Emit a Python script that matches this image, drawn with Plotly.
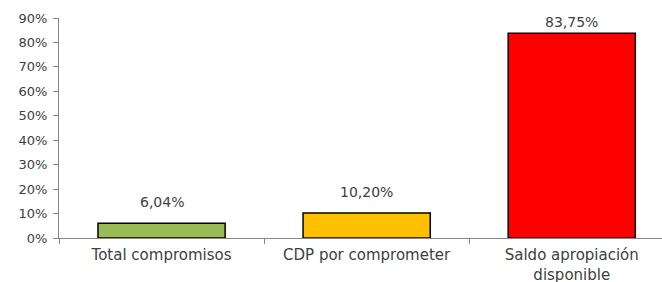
import plotly.graph_objects as go

categories = ["Total compromisos", "CDP por comprometer", "Saldo apropiación<br>disponible"]
values = [0.0604, 0.1020, 0.8375]
labels = ["6,04%", "10,20%", "83,75%"]
colors = ["#9BBB59", "#FFC000", "#FF0000"]
y_ticks = [0, 0.1, 0.2, 0.3, 0.4, 0.5, 0.6, 0.7, 0.8, 0.9]
y_tick_labels = ["0%", "10%", "20%", "30%", "40%", "50%", "60%", "70%", "80%", "90%"]

font_family = "DejaVu Sans"
label_gaps = [11, 11, 1]

fig = go.Figure(go.Bar(
    x=categories, y=values,
    marker=dict(color=colors, line=dict(color="#000000", width=1.5)),
    width=0.62,
))

for cat, val, lab, gap in zip(categories, values, labels, label_gaps):
    fig.add_annotation(
        x=cat, y=val, text=lab, showarrow=False,
        xanchor="center", yanchor="bottom", yshift=gap,
        font=dict(family=font_family, size=14, color="#404040"),
    )

fig.update_layout(
    width=662, height=282,
    margin=dict(l=59, r=0, t=18, b=44, autoexpand=False),
    paper_bgcolor="white", plot_bgcolor="white",
    showlegend=False,
    font=dict(family=font_family, size=13, color="#404040"),
)
fig.update_xaxes(
    range=[-0.5, 2.44], showline=True, linecolor="#868686", linewidth=1,
    ticks="outside", tickson="boundaries", ticklen=5, tickcolor="#868686",
    tickfont=dict(family=font_family, size=15, color="#404040"),
    showgrid=False, zeroline=False, automargin=False, ticklabelstandoff=3,
)
fig.update_yaxes(
    range=[0, 0.9], tickvals=y_ticks, ticktext=y_tick_labels,
    showline=True, linecolor="#868686", linewidth=1,
    ticks="outside", ticklen=5, tickcolor="#868686",
    tickfont=dict(family=font_family, size=13, color="#404040"),
    showgrid=False, zeroline=False, automargin=False, ticklabelstandoff=3,
)

fig.write_html("out.html", config={"displayModeBar": False},
               post_script="document.body.style.margin='0';")
